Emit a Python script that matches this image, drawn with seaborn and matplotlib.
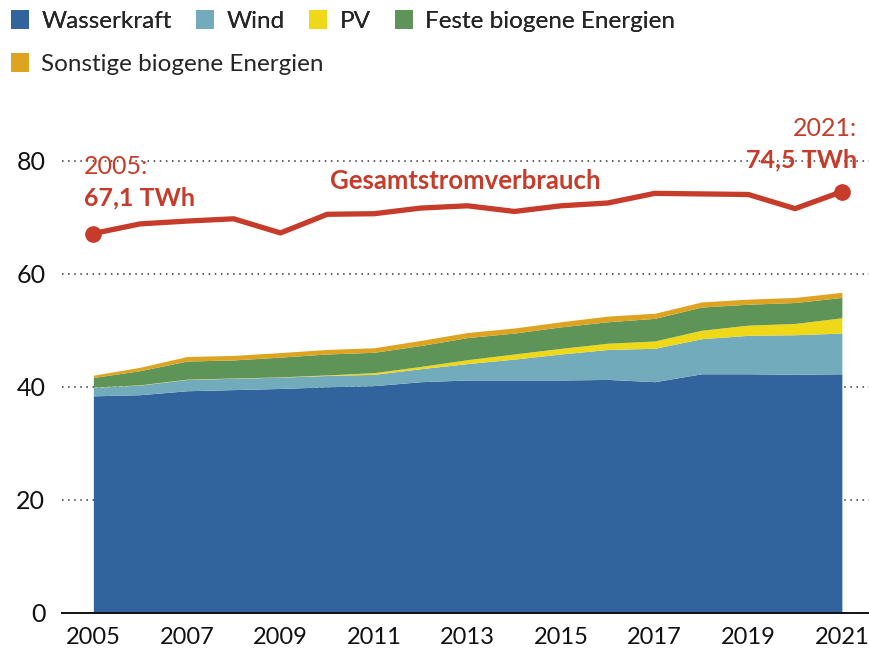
"""
Stromproduktion aus erneuerbaren Energien vs. Gesamtstromverbrauch, 2005-2021.
"""
import matplotlib.pyplot as plt
import pandas as pd
import seaborn as sns
from matplotlib.patches import Patch

YEARS = list(range(2005, 2022))

WASSERKRAFT = [38.4, 38.6, 39.3, 39.5, 39.7, 40.0, 40.2, 40.9, 41.2, 41.2,
               41.2, 41.3, 40.9, 42.3, 42.3, 42.2, 42.3]
WIND = [1.5, 1.7, 2.0, 2.0, 2.0, 2.0, 2.0, 2.3, 2.9, 3.7,
        4.6, 5.3, 5.9, 6.2, 6.8, 7.0, 7.2]
PV = [0.05, 0.05, 0.05, 0.05, 0.05, 0.1, 0.3, 0.4, 0.7, 0.9,
      1.0, 1.1, 1.3, 1.5, 1.8, 2.0, 2.7]
FESTE_BIOGENE = [1.7, 2.5, 3.2, 3.2, 3.5, 3.7, 3.6, 3.7, 3.9, 3.7,
                 3.8, 3.8, 4.0, 4.1, 3.7, 3.7, 3.6]
SONSTIGE_BIOGENE = [0.4, 0.6, 0.8, 0.8, 0.8, 0.8, 0.8, 0.9, 0.9, 0.9,
                    0.9, 1.0, 0.9, 0.9, 0.9, 0.9, 0.9]
GESAMTVERBRAUCH = [67.1, 68.8, 69.3, 69.7, 67.2, 70.5, 70.6, 71.6, 72.0, 71.0,
                   72.0, 72.5, 74.2, 74.1, 74.0, 71.5, 74.5]

LABELS = ["Wasserkraft", "Wind", "PV", "Feste biogene Energien", "Sonstige biogene Energien"]
COLORS = ["#31649c", "#72abbb", "#efd818", "#5f9458", "#dea321"]
RED = "#c63b2a"
X_TICKS = list(range(2005, 2022, 2))
Y_TICKS = [0, 20, 40, 60, 80]

sns.set_theme(style="white")
plt.rcParams["font.family"] = ["Lato", "DejaVu Sans"]

fig = plt.figure(figsize=(8.69, 6.59), dpi=100)
ax = fig.add_axes([62 / 869, 46 / 659, 807 / 869, 509 / 659])

ax.stackplot(YEARS, WASSERKRAFT, WIND, PV, FESTE_BIOGENE, SONSTIGE_BIOGENE,
             colors=COLORS, linewidth=0, zorder=2)

df = pd.DataFrame({"Jahr": YEARS, "Verbrauch": GESAMTVERBRAUCH})
sns.lineplot(data=df, x="Jahr", y="Verbrauch", color=RED, linewidth=3.8,
             legend=False, ax=ax, zorder=3)
ends = df.iloc[[0, -1]]
ax.plot(ends["Jahr"], ends["Verbrauch"], "o", color=RED, markersize=11, zorder=4)

ax.set_xlim(2004.33, 2021.58)
ax.set_ylim(0, 90)
ax.set_xticks(X_TICKS)
ax.set_yticks(Y_TICKS)
ax.set_xlabel("")
ax.set_ylabel("")
ax.tick_params(axis="both", length=0, labelsize=17, colors="#111111")
ax.tick_params(axis="y", labelsize=18, pad=12)
ax.tick_params(axis="x", pad=10)

ax.set_axisbelow(True)
ax.yaxis.grid(True, linestyle=(0, (1, 3)), color="#333333", linewidth=1.1)
for side in ["top", "right", "left"]:
    ax.spines[side].set_visible(False)
ax.spines["bottom"].set_color("#111111")
ax.spines["bottom"].set_linewidth(1.4)
ax.spines["bottom"].set_zorder(5)

# annotations
ax.text(2004.80, 77.6, "2005:", color=RED, fontsize=18, va="baseline", ha="left")
ax.text(2004.80, 72.1, "67,1 TWh", color=RED, fontsize=18, fontweight="bold",
        va="baseline", ha="left")
ax.text(2012.96, 74.9, "Gesamtstromverbrauch", color=RED, fontsize=18.5,
        fontweight="bold", va="baseline", ha="center")
ax.text(2021.32, 84.3, "2021:", color=RED, fontsize=18, va="baseline", ha="right")
ax.text(2021.32, 78.8, "74,5 TWh", color=RED, fontsize=18, fontweight="bold",
        va="baseline", ha="right")

# legend in two rows
handles = [Patch(facecolor=c, edgecolor="none") for c in COLORS]
leg_kw = dict(loc="upper left", frameon=False, fontsize=17.5, handlelength=0.75,
              handleheight=0.85, handletextpad=0.5, borderaxespad=0, borderpad=0)
leg1 = fig.legend(handles[:4], LABELS[:4], ncol=4, columnspacing=1.0,
                  bbox_to_anchor=(11 / 869, 1 - 10 / 659), **leg_kw)
fig.legend(handles[4:], LABELS[4:], ncol=1,
           bbox_to_anchor=(11 / 869, 1 - 53 / 659), **leg_kw)
fig.add_artist(leg1)

fig.savefig("out.png", dpi=100)
